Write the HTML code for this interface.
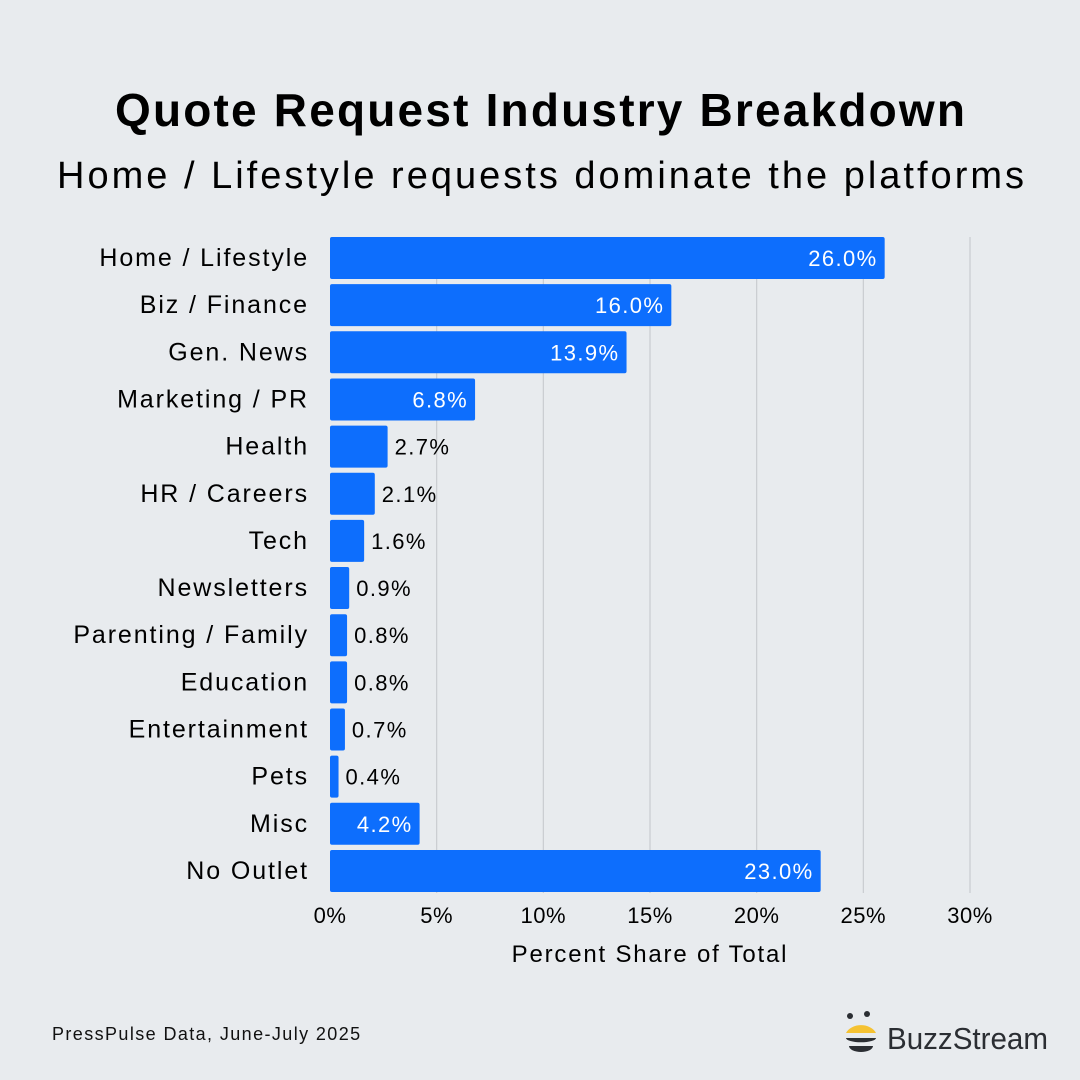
<!DOCTYPE html>
<html><head><meta charset="utf-8"><style>
body{margin:0;background:#e8ebee;}
svg{display:block;font-family:"Liberation Sans","DejaVu Sans",sans-serif;}
</style></head><body>
<svg id="c" width="1080" height="1080" viewBox="0 0 1080 1080">
<rect width="1080" height="1080" fill="#e8ebee"/>
<text x="115" y="126" textLength="850" lengthAdjust="spacing" font-size="46" font-weight="bold" fill="#000">Quote Request Industry Breakdown</text>
<text x="57" y="188" textLength="967" lengthAdjust="spacing" font-size="38" fill="#000">Home / Lifestyle requests dominate the platforms</text>
<g id="grid"></g><g id="bars"></g><g id="ticks"></g>
<text x="650" y="962" text-anchor="middle" font-size="24" letter-spacing="1.8" fill="#000">Percent Share of Total</text>
<text x="52" y="1040" font-size="18" letter-spacing="1.4" fill="#111">PressPulse Data, June-July 2025</text>
<g>
<circle cx="850" cy="1016" r="3" fill="#2b2e33"/><circle cx="867" cy="1014" r="3" fill="#2b2e33"/>
<path d="M846 1033 A16 12 0 0 1 876 1033 Z" fill="#f5c232"/>
<path d="M846 1038 H876 A14 4 0 0 1 846 1038 Z" fill="#2b2e33"/>
<path d="M849 1046 H873 A12 6 0 0 1 849 1046 Z" fill="#2b2e33"/>
<text x="887" y="1049" font-size="31" textLength="161" lengthAdjust="spacingAndGlyphs" fill="#2b2e33">BuzzStream</text>
</g>
</svg>
<script>
const categories=["Home / Lifestyle","Biz / Finance","Gen. News","Marketing / PR","Health","HR / Careers","Tech","Newsletters","Parenting / Family","Education","Entertainment","Pets","Misc","No Outlet"];
const values=[26.0,16.0,13.9,6.8,2.7,2.1,1.6,0.9,0.8,0.8,0.7,0.4,4.2,23.0];
const tickValues=[0,5,10,15,20,25,30];
const tickLabels=["0%","5%","10%","15%","20%","25%","30%"];
const NS="http://www.w3.org/2000/svg";
const x=v=>330+v*(640/30);
const y=i=>237+i*47.15;
const bh=42;
function mk(t,a,p){const e=document.createElementNS(NS,t);for(const k in a)e.setAttribute(k,a[k]);p.appendChild(e);return e;}
const G=document.getElementById('grid'),B=document.getElementById('bars'),T=document.getElementById('ticks');
tickValues.forEach((v,i)=>{
 if(v>0){const l=mk('line',{x1:x(v),x2:x(v),y1:237,y2:893,stroke:'#c9ccd0','stroke-width':1.2},G);
 
 }
 const t=mk('text',{x:x(v),y:923,'text-anchor':'middle','font-size':22,'letter-spacing':0.5,fill:'#000'},T);t.textContent=tickLabels[i];
 
 
});
categories.forEach((c,i)=>{
 const r=mk('rect',{x:330,y:y(i),width:x(values[i])-330,height:bh,rx:2,fill:'#0d6efd'},B);
 
 
 const l=mk('text',{x:309,y:y(i)+bh/2+8,'text-anchor':'end','font-size':25,'letter-spacing':1.9,fill:'#000'},B);l.textContent=c;
 
 
 const inside=values[i]>=4;
 const v=mk('text',{x:inside?x(values[i])-7:x(values[i])+7,y:y(i)+bh/2+8,'text-anchor':inside?'end':'start','font-size':22,'letter-spacing':1.4,fill:inside?'#fff':'#000'},B);
 v.textContent=values[i].toFixed(1)+'%';
 
 
});
</script>
</body></html>
